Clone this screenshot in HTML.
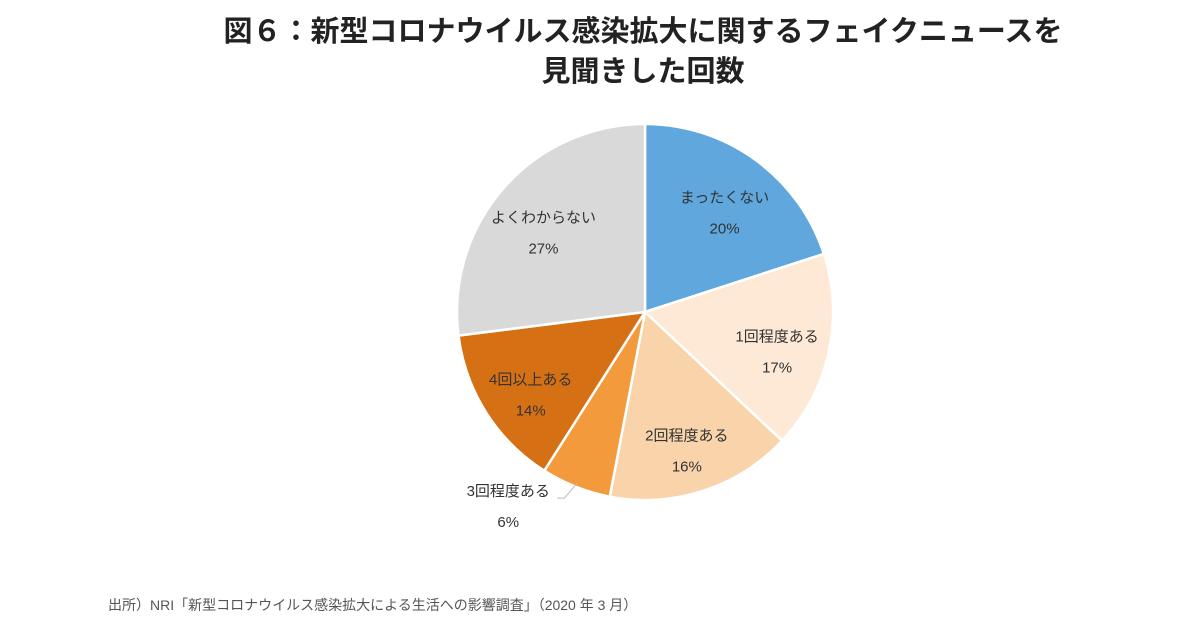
<!DOCTYPE html>
<html><head><meta charset="utf-8">
<style>
body{margin:0;background:#fff;width:1200px;height:630px;overflow:hidden;font-family:"Liberation Sans","Noto Sans CJK JP",sans-serif;}
.t{position:absolute;left:0;width:1286px;text-align:center;font-weight:bold;font-size:29px;color:#222;}
</style></head>
<body>
<div class="t" style="top:8px;">図６：新型コロナウイルス感染拡大に関するフェイクニュースを</div>
<div class="t" style="top:48px;">見聞きした回数</div>
<svg id="pie" width="1200" height="630" style="position:absolute;left:0;top:0"></svg>
<div style="position:absolute;left:108px;top:595px;font-size:14px;color:#555;">出所）NRI「新型コロナウイルス感染拡大による生活への影響調査」（2020 年 3 月）</div>
<script>
const categories=["まったくない","1回程度ある","2回程度ある","3回程度ある","4回以上ある","よくわからない"];
const values=[20,17,16,6,14,27];
const colors=["#5fa7dc","#fde9d5","#f9d4aa","#f39a3c","#d67014","#d9d9d9"];
const svg=document.getElementById('pie');
const NS="http://www.w3.org/2000/svg";
const cx=645,cy=312,R=188;
const total=values.reduce((a,b)=>a+b,0);
function pt(a,r){return [cx+r*Math.sin(a),cy-r*Math.cos(a)];}
let acc=0;
values.forEach((v,i)=>{
  const a0=acc/total*2*Math.PI; acc+=v; const a1=acc/total*2*Math.PI;
  const p0=pt(a0,R),p1=pt(a1,R);
  const path=document.createElementNS(NS,'path');
  path.setAttribute('d',`M${cx},${cy}L${p0[0]},${p0[1]}A${R},${R} 0 ${a1-a0>Math.PI?1:0} 1 ${p1[0]},${p1[1]}Z`);
  path.setAttribute('fill',colors[i]);path.setAttribute('stroke','#fff');path.setAttribute('stroke-width','2.5');
  
  
  svg.appendChild(path);
  const am=(a0+a1)/2;
  let lx,ly;
  if(v<10){
    const e=pt(am,R-4);
    const line=document.createElementNS(NS,'polyline');
    line.setAttribute('points',`${e[0]},${e[1]} ${e[0]-13},${e[1]+15} ${e[0]-20},${e[1]+15}`);
    line.setAttribute('fill','none');line.setAttribute('stroke','#bbb');
    
    
    svg.appendChild(line);
    lx=e[0]-69;ly=e[1]+13;
  } else {
    const p=pt(am,R*0.72);lx=p[0];ly=p[1];
  }
  [[categories[i],ly],[v+'%',ly+31]].forEach((s,k)=>{
    const t=document.createElementNS(NS,'text');
    t.setAttribute('x',lx);t.setAttribute('y',s[1]);t.setAttribute('text-anchor','middle');
    t.setAttribute('font-size','15');t.setAttribute('fill','#333');
    t.textContent=s[0];
    
    
    svg.appendChild(t);
  });
});
</script>
</body></html>
